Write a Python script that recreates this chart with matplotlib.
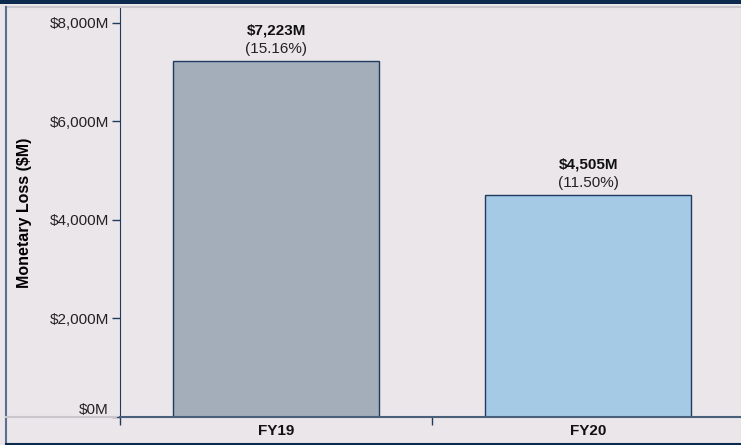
import matplotlib.pyplot as plt
from matplotlib.lines import Line2D
from matplotlib.patches import Rectangle

plt.rcParams['font.family'] = ['Liberation Sans', 'DejaVu Sans']

years = ['FY19', 'FY20']
loss = [7223, 4505]
pct = ['15.16%', '11.50%']
bar_colors = ['#a3aeba', '#a4cae6']
y_ticks = [0, 2000, 4000, 6000, 8000]

bg = '#ebe6ea'
navy = '#0b2a4e'
edge = '#1f3a5f'

fig = plt.figure(figsize=(7.41, 4.45), dpi=100)
fig.patch.set_facecolor(bg)

ax = fig.add_axes([120 / 741, 28 / 445, 621 / 741, 409 / 445])
ax.set_facecolor(bg)

x = range(len(years))
ax.bar(x, loss, width=0.66, color=bar_colors, edgecolor=edge, linewidth=1)

for i, v in enumerate(loss):
    ax.annotate('(' + pct[i] + ')', (i, v), xytext=(0, 9), textcoords='offset points',
                ha='center', va='center', fontsize=11, color='#222222')
    ax.annotate('${:,}M'.format(v), (i, v), xytext=(0, 22), textcoords='offset points',
                ha='center', va='center', fontsize=11, fontweight='bold', color='#111111')

ax.set_xlim(-0.5, 1.49)
ax.set_ylim(0, 8300)
ax.set_yticks(y_ticks)
ax.set_yticklabels(['${:,}M'.format(t) for t in y_ticks], fontsize=11, color='#222222')
ax.get_yticklabels()[0].set_verticalalignment('bottom')

# x ticks sit on category boundaries, labels centred under bars
ax.set_xticks([-0.5, 0.5])
ax.set_xticklabels([])
ax.set_xticks(list(x), minor=True)
ax.set_xticklabels(years, minor=True, fontsize=11, fontweight='bold', color='#111111')
ax.tick_params(axis='x', which='minor', length=0, pad=5)
ax.tick_params(axis='x', which='major', length=6, color=edge, width=1)
ax.tick_params(axis='y', length=6, color=edge, width=1, pad=2)

for s in ['top', 'right']:
    ax.spines[s].set_visible(False)
ax.spines['left'].set_color(edge)
ax.spines['bottom'].set_color('#4a5f7a')
ax.spines['bottom'].set_linewidth(1.5)

ax.set_ylabel('Monetary Loss ($M)', fontsize=11.5, fontweight='bold')
ax.yaxis.set_label_coords(-0.142, 0.5)

# frame decoration
fig.add_artist(Rectangle((0, 441 / 445), 1, 4 / 445, transform=fig.transFigure,
                         color=navy, lw=0))
fig.add_artist(Line2D([6 / 741, 1], [438 / 445, 438 / 445], transform=fig.transFigure,
                      color='#c9c6cc', lw=1.5))
fig.add_artist(Line2D([6 / 741, 6 / 741], [2 / 445, 438 / 445], transform=fig.transFigure,
                      color='#5a7090', lw=1.5))
fig.add_artist(Line2D([6 / 741, 1], [1.5 / 445, 1.5 / 445], transform=fig.transFigure,
                      color=navy, lw=1.5))
fig.add_artist(Line2D([6 / 741, 116 / 741], [28 / 445, 28 / 445], transform=fig.transFigure,
                      color='#c9c6cc', lw=1.5))

plt.savefig('out.png', dpi=100, facecolor=bg)
